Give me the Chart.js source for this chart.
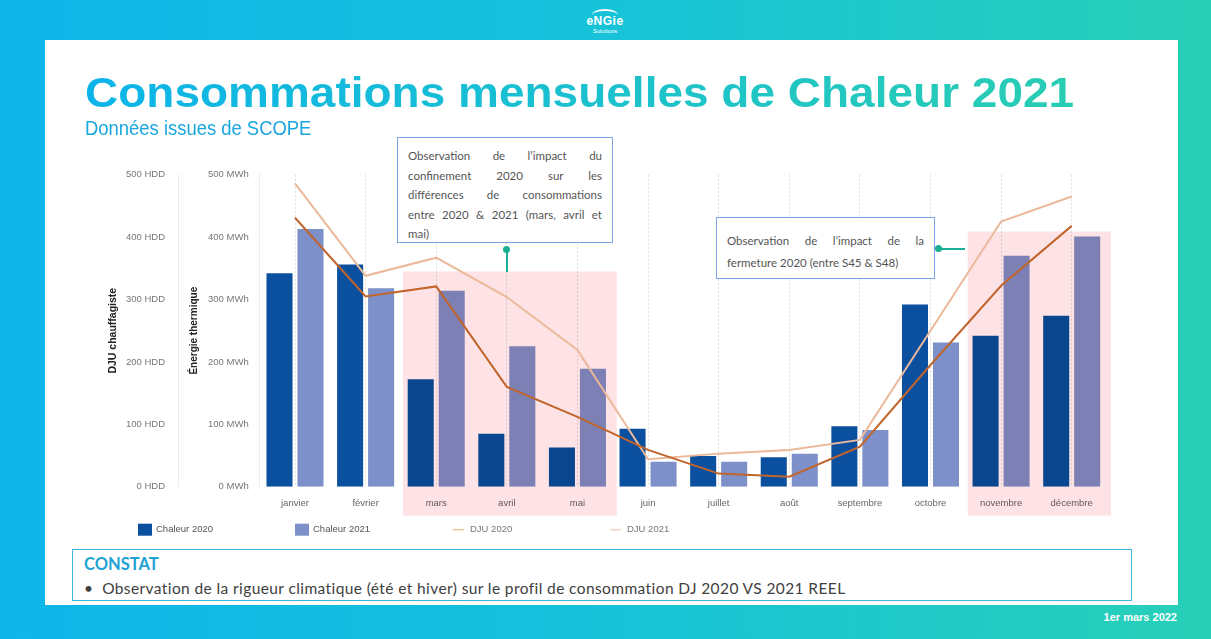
<!DOCTYPE html>
<html>
<head>
<meta charset="utf-8">
<script src="https://cdn.jsdelivr.net/npm/chart.js@4.4.0/dist/chart.umd.min.js"></script>
<style>
  body { margin:0; width:1211px; height:639px; overflow:hidden; position:relative;
         background:linear-gradient(90deg,#0eb6ea 0%,#15c1dc 45%,#28d0b7 100%); font-family:'Liberation Sans',Arial,sans-serif; }
  #panel { position:absolute; left:45px; top:40px; width:1133px; height:565px; background:#fff; }
  #logo { position:absolute; left:580px; top:9px; width:50px; text-align:center; color:#fff; }
  #logo .arc { width:26px; height:10px; margin:0 auto; border-top:2px solid #fff; border-radius:50% 50% 0 0; }
  #logo .name { font:bold 12px 'Liberation Sans',Arial; letter-spacing:0.5px; margin-top:-6px; line-height:13px; }
  #logo .sub { font:6px 'Liberation Sans',Arial; line-height:7px; }
  #title { position:absolute; left:85px; top:69px; font:bold 42px 'Liberation Sans',Arial; line-height:48px; white-space:nowrap;
           transform:scaleX(1.095); transform-origin:0 0;
           background:linear-gradient(90deg,#0cb4ea,#29cdb3); -webkit-background-clip:text; background-clip:text; color:transparent; }
  #subtitle { position:absolute; left:85px; top:117px; font:19.5px 'Liberation Sans',Arial; line-height:22px; color:#1aa6de;
              transform:scaleX(0.945); transform-origin:0 0; }
  #chart { position:absolute; left:95px; top:150px; }
  .note { position:absolute; background:#fff; border:1.5px solid #7ea6e6; font:11.5px Lato,'Noto Sans',sans-serif; color:#555; box-sizing:border-box; }
  .note div { text-align:justify; text-align-last:justify; white-space:nowrap; }
  .note div.last { text-align-last:left; }
  #note1 { left:397px; top:137px; width:216px; height:106px; padding:8px 10px 0 10px; line-height:19.5px; }
  #note2 { left:716px; top:217px; width:219px; height:62px; padding:12px 10px 0 10px; line-height:22px; }
  .dot { position:absolute; width:7px; height:7px; border-radius:50%; background:#1aae94; }
  .stem { position:absolute; background:#1aae94; }
  #constat { position:absolute; left:72px; top:549px; width:1060px; height:52px; border:1px solid #3cb6dc; box-sizing:border-box; }
  #constat .h { position:absolute; left:11px; top:4px; font:bold 16.5px Lato,'Noto Sans',sans-serif; color:#1ea3d4; }
  #constat .t { position:absolute; left:11px; top:29px; font:15.5px Lato,'Noto Sans',sans-serif; letter-spacing:0.4px; color:#404040; white-space:nowrap; }
  #date { position:absolute; right:34px; top:611px; font:bold 11px 'Liberation Sans',Arial; color:#fff; }
</style>
</head>
<body>
<div id="panel"></div>
<div id="logo"><div class="arc"></div><div class="name">eNGie</div><div class="sub">Solutions</div></div>
<div id="title">Consommations mensuelles de Chaleur 2021</div>
<div id="subtitle">Données issues de SCOPE</div>
<canvas id="chart" width="1040" height="395"></canvas>
<div class="note" id="note1">
  <div>Observation de l’impact du</div>
  <div>confinement 2020 sur les</div>
  <div>différences de consommations</div>
  <div>entre 2020 &amp; 2021 (mars, avril et</div>
  <div class="last">mai)</div>
</div>
<div class="dot" style="left:503px;top:246px"></div>
<div class="stem" style="left:506px;top:250px;width:1.5px;height:22px"></div>
<div class="note" id="note2">
  <div>Observation de l’impact de la</div>
  <div class="last">fermeture 2020 (entre S45 &amp; S48)</div>
</div>
<div class="dot" style="left:935px;top:245px"></div>
<div class="stem" style="left:938px;top:248px;width:27px;height:1.5px"></div>
<div id="constat">
  <div class="h">CONSTAT</div>
  <div class="t">•&nbsp;&nbsp;Observation de la rigueur climatique (été et hiver) sur le profil de consommation DJ 2020 VS 2021 REEL</div>
</div>
<div id="date">1er mars 2022</div>

<script>
var months = ['janvier','février','mars','avril','mai','juin','juillet','août','septembre','octobre','novembre','décembre'];
var chaleur2020 = [342, 356, 172, 85, 63, 93, 49, 47, 97, 292, 242, 274];
var chaleur2021 = [413, 318, 314, 225, 189, 40, 40, 53, 91, 231, 370, 401];
var dju2020 = [431, 305, 321, 160, 112, 59, 21, 16, 64, 195, 322, 418];
var dju2021 = [486, 338, 367, 304, 219, 44, 53, 59, 75, 250, 425, 465];
var yMax = 500;
var yStep = 100;
// shaded periods: first month, last month, top of the shading
var periods = [{from: 2, to: 4, top: 345}, {from: 10, to: 11, top: 409}];

// pink shading laid over the bars (multiply), under the lines
var shading = {
    id: 'shading',
    afterDatasetDraw: function(chart, args) {
        if (args.index !== 0) return;
        var x = chart.scales.x, y = chart.scales.y1;
        var half = (x.getPixelForValue(1) - x.getPixelForValue(0)) / 2;
        var ctx = chart.ctx;
        ctx.save();
        ctx.globalCompositeOperation = 'multiply';
        ctx.fillStyle = '#fde3e5';
        periods.forEach(function(p) {
            var l = x.getPixelForValue(p.from) - half + 2;
            var r = x.getPixelForValue(p.to) + half + 4;
            var t = y.getPixelForValue(p.top);
            ctx.fillRect(l, t, r - l, chart.chartArea.bottom + 29 - t);
        });
        ctx.restore();
    }
};

// legend laid out at a fixed pitch like the original
var legendRow = {
    id: 'legendRow',
    afterDraw: function(chart) {
        var ctx = chart.ctx;
        var y = chart.chartArea.bottom + 43;
        ctx.save();
        ctx.font = '9.5px "Liberation Sans", Arial';
        ctx.textBaseline = 'middle';
        chart.data.datasets.forEach(function(ds, i) {
            var x0 = 43 + i * 157;
            if (ds.type === 'line') {
                ctx.strokeStyle = ds.legendColor;
                ctx.lineWidth = 1.5;
                ctx.beginPath(); ctx.moveTo(x0 + 1, y); ctx.lineTo(x0 + 12, y); ctx.stroke();
                ctx.fillStyle = '#777';
                ctx.fillText(ds.label, x0 + 18, y);
            } else {
                ctx.fillStyle = ds.backgroundColor;
                ctx.fillRect(x0, y - 6, 14, 12);
                ctx.fillStyle = '#555';
                ctx.fillText(ds.label, x0 + 18, y);
            }
        });
        ctx.restore();
    }
};

var ctx = document.getElementById('chart').getContext('2d');
var chart = new Chart(ctx, {
    type: 'bar',
    data: {
        labels: months,
        datasets: [
            { label: 'Chaleur 2020', data: chaleur2020, backgroundColor: '#0b4f9f', yAxisID: 'y', order: 1,
              categoryPercentage: 0.878, barPercentage: 0.84 },
            { label: 'Chaleur 2021', data: chaleur2021, backgroundColor: '#7d90c9', yAxisID: 'y', order: 1,
              categoryPercentage: 0.878, barPercentage: 0.84 },
            { type: 'line', label: 'DJU 2020', data: dju2020, borderColor: '#c1652c', legendColor: '#efc29c',
              borderWidth: 2, pointRadius: 0, tension: 0, yAxisID: 'y1', order: 0 },
            { type: 'line', label: 'DJU 2021', data: dju2021, borderColor: '#ebb899', legendColor: '#f4d3c6',
              borderWidth: 2, pointRadius: 0, tension: 0, yAxisID: 'y1', order: 0 }
        ]
    },
    options: {
        responsive: false,
        animation: false,
        layout: { padding: { top: 24.7, right: 28, left: 0, bottom: 0 } },
        plugins: { legend: { display: false }, tooltip: { enabled: false } },
        scales: {
            x: {
                grid: { offset: false, color: '#dcdcdc', drawTicks: false },
                border: { display: false, dash: [2, 2] },
                ticks: { color: '#666', font: { size: 9.5 }, padding: 11 },
                afterFit: function(s) { s.height = 58.3; }
            },
            y: {
                position: 'left', weight: 0, min: 0, max: yMax,
                grid: { display: false, drawTicks: false },
                border: { color: '#ececec' },
                ticks: { stepSize: yStep, padding: 11, color: '#777', font: { size: 9.5 },
                         callback: function(v) { return v + ' MWh'; } },
                title: { display: true, text: 'Énergie thermique', color: '#222', font: { size: 10, weight: 'bold' },
                         padding: { top: 10, bottom: 0 } },
                afterFit: function(s) { s.width = 81.7; }
            },
            y1: {
                position: 'left', weight: 1, min: 0, max: yMax,
                grid: { display: false, drawTicks: false },
                border: { color: '#ececec' },
                ticks: { stepSize: yStep, padding: 13, color: '#777', font: { size: 9.5 },
                         callback: function(v) { return v + ' HDD'; } },
                title: { display: true, text: 'DJU chauffagiste', color: '#222', font: { size: 10.5, weight: 'bold' },
                         padding: { top: 12, bottom: 0 } },
                afterFit: function(s) { s.width = 83; }
            }
        }
    },
    plugins: [shading, legendRow]
});
</script>
</body>
</html>
